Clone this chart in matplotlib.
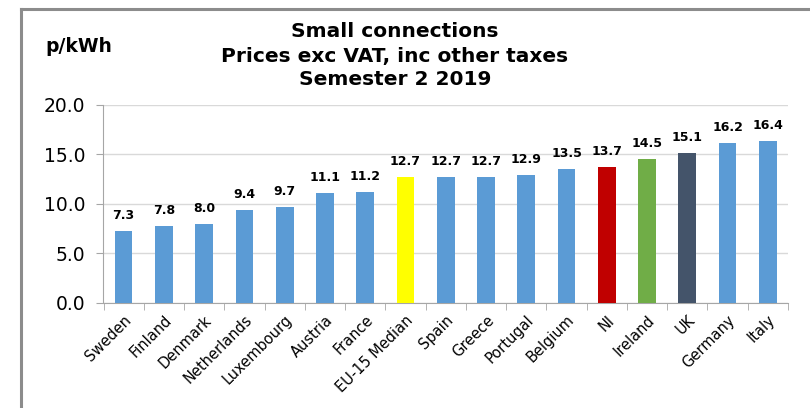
import matplotlib.pyplot as plt
import numpy as np

plt.rcParams['font.family'] = ['DejaVu Sans']

countries = ["Sweden", "Finland", "Denmark", "Netherlands", "Luxembourg", "Austria",
             "France", "EU-15 Median", "Spain", "Greece", "Portugal", "Belgium",
             "NI", "Ireland", "UK", "Germany", "Italy"]
prices = [7.3, 7.8, 8.0, 9.4, 9.7, 11.1, 11.2, 12.7, 12.7, 12.7, 12.9, 13.5,
          13.7, 14.5, 15.1, 16.2, 16.4]
title_lines = ["Small connections", "Prices exc VAT, inc other taxes", "Semester 2 2019"]

blue = "#5B9BD5"
special = {"EU-15 Median": "#FFFF00", "NI": "#C00000", "Ireland": "#70AD47", "UK": "#44546A"}
colors = [special.get(c, blue) for c in countries]

W, H = 810, 408
fig = plt.figure(figsize=(W / 100, H / 100), dpi=100)
ax = fig.add_axes([103.5 / W, 1 - 302.7 / H, (788 - 103.5) / W, (302.7 - 105) / H])

x = np.arange(len(countries))
ax.bar(x, prices, width=0.44, color=colors, zorder=3)

# value labels above bars
for xi, v in zip(x, prices):
    ax.annotate(f"{v:.1f}", (xi, v), xytext=(0, 12), textcoords="offset pixels",
                ha="center", va="baseline", fontsize=9, fontweight="bold", zorder=4)

ax.set_xlim(-0.5, len(countries) - 0.5)
ax.set_ylim(0, 20)
yt = np.arange(0, 20.1, 5)
ax.set_yticks(yt)
ax.set_yticklabels([f"{t:.1f}" for t in yt], fontsize=13.5)
ax.yaxis.grid(True, color="#D9D9D9", linewidth=1, zorder=0)

ax.set_xticks(x)
ax.set_xticklabels(countries, rotation=45, ha="right", rotation_mode="anchor", fontsize=10.5)
ax.tick_params(axis="x", length=0, pad=7)
ax.set_xticks(np.arange(-0.5, len(countries), 1), minor=True)
ax.tick_params(axis="x", which="minor", length=5, color="#A6A6A6")
ax.tick_params(axis="y", length=5, color="#A6A6A6", pad=8)

for s in ["top", "right"]:
    ax.spines[s].set_visible(False)
for s in ["left", "bottom"]:
    ax.spines[s].set_color("#A6A6A6")

for yb, line in zip([37, 62, 85], title_lines):
    fig.text(395 / W, 1 - yb / H, line, ha="center", va="baseline",
             fontsize=14.5, fontweight="bold")
fig.text(45 / W, 1 - 52 / H, "p/kWh", ha="left", va="baseline", fontsize=13.5, fontweight="bold")

# outer frame
fig.add_artist(plt.Line2D([21 / W, 21 / W], [0, 1 - 9 / H], color="#8C8C8C", linewidth=2.2))
fig.add_artist(plt.Line2D([21 / W, 1], [1 - 9 / H, 1 - 9 / H], color="#8C8C8C", linewidth=2.2))

fig.savefig("out.png", dpi=100)
